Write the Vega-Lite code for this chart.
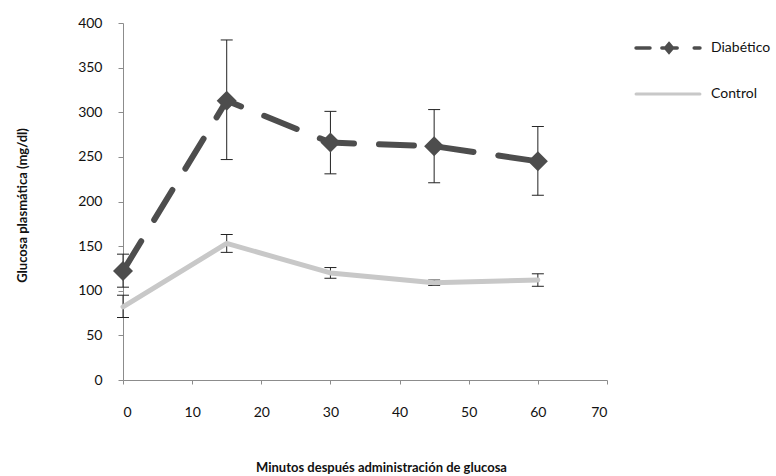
{
  "$schema": "https://vega.github.io/schema/vega-lite/v6.json",
  "width": 484,
  "height": 357,
  "autosize": {"type": "none"},
  "padding": {"left": 123, "top": 23, "right": 169, "bottom": 96},
  "background": "white",
  "config": {
    "view": {"stroke": null},
    "font": "Lato",
    "axis": {
      "grid": false,
      "domainColor": "#8c8c8c",
      "tickColor": "#8c8c8c",
      "labelColor": "#111111",
      "labelFont": "Lato",
      "labelFontSize": 14,
      "titleFont": "Lato",
      "titleFontSize": 13,
      "titleFontWeight": "bold",
      "titleColor": "#111111"
    }
  },
  "data": {
    "values": [
      {"t": 0, "g": "Diabético", "v": 122, "lo": 104, "hi": 141},
      {"t": 15, "g": "Diabético", "v": 313, "lo": 247, "hi": 381},
      {"t": 30, "g": "Diabético", "v": 266, "lo": 231, "hi": 301},
      {"t": 45, "g": "Diabético", "v": 262, "lo": 221, "hi": 303},
      {"t": 60, "g": "Diabético", "v": 245, "lo": 207, "hi": 284},
      {"t": 0, "g": "Control", "v": 82, "lo": 70, "hi": 95},
      {"t": 15, "g": "Control", "v": 153, "lo": 143, "hi": 163},
      {"t": 30, "g": "Control", "v": 120, "lo": 114, "hi": 126},
      {"t": 45, "g": "Control", "v": 109, "lo": 106, "hi": 112},
      {"t": 60, "g": "Control", "v": 112, "lo": 105, "hi": 119}
    ]
  },
  "encoding": {
    "x": {
      "field": "t",
      "type": "quantitative",
      "scale": {"domain": [0, 70], "nice": false},
      "axis": {
        "values": [0, 10, 20, 30, 40, 50, 60, 70],
        "title": "Minutos después administración de glucosa",
        "tickSize": 4,
        "labelPadding": 28,
        "labelBaseline": "middle",
        "titleX": 258,
        "titleY": 87,
        "titleBaseline": "middle",
        "titleAlign": "center"
      }
    }
  },
  "layer": [
    {
      "mark": {"type": "rule", "color": "#222222", "strokeWidth": 1},
      "encoding": {
        "y": {
          "field": "lo",
          "type": "quantitative",
          "scale": {"domain": [0, 400], "nice": false},
          "axis": {
            "values": [0, 50, 100, 150, 200, 250, 300, 350, 400],
            "title": "Glucosa plasmática (mg/dl)",
            "tickSize": 5,
            "labelPadding": 16,
            "titleX": -101,
            "titleY": 182,
            "titleAngle": 270,
            "titleAlign": "center",
            "titleBaseline": "middle"
          }
        },
        "y2": {"field": "hi"}
      }
    },
    {
      "mark": {"type": "tick", "orient": "horizontal", "color": "#222222", "size": 12, "thickness": 1, "opacity": 1},
      "encoding": {"y": {"field": "lo", "type": "quantitative"}}
    },
    {
      "mark": {"type": "tick", "orient": "horizontal", "color": "#222222", "size": 12, "thickness": 1, "opacity": 1},
      "encoding": {"y": {"field": "hi", "type": "quantitative"}}
    },
    {
      "transform": [{"filter": "datum.g === 'Control'"}],
      "mark": {"type": "line", "strokeWidth": 5, "strokeJoin": "round", "strokeCap": "round"},
      "encoding": {
        "y": {"field": "v", "type": "quantitative"},
        "color": {
          "field": "g",
          "type": "nominal",
          "scale": {"domain": ["Diabético", "Control"], "range": ["#4d4d4d", "#c8c8c8"]},
          "legend": {
            "title": null,
            "orient": "none",
            "legendX": 538,
            "legendY": 18,
            "padding": 0,
            "symbolType": "stroke",
            "symbolSize": 4624,
            "symbolStrokeWidth": 3.5,
            "labelFont": "Lato",
            "labelFontSize": 14,
            "labelColor": "#111111",
            "labelOffset": 36,
            "rowPadding": 27,
            "encode": {
              "symbols": {
                "update": {
                  "shape": {"signal": "datum.value === 'Diabético' ? 'M-0.94,0L-0.53,0M-0.18,0L0.27,0M0.77,0L0.94,0M0.03,-0.12L0.13,0L0.03,0.12L-0.07,0Z' : 'M-0.94,0L0.94,0'"},
                  "fill": {"signal": "datum.value === 'Diabético' ? '#4d4d4d' : 'transparent'"},
                  "strokeCap": {"value": "round"},
                  "strokeWidth": {"signal": "datum.value === 'Diabético' ? 3.5 : 3"}
                }
              }
            }
          }
        }
      }
    },
    {
      "transform": [{"filter": "datum.g === 'Diabético'"}],
      "mark": {"type": "line", "strokeWidth": 6, "strokeDash": [35, 25], "strokeCap": "round", "strokeJoin": "round"},
      "encoding": {
        "y": {"field": "v", "type": "quantitative"},
        "color": {"field": "g", "type": "nominal"}
      }
    },
    {
      "transform": [{"filter": "datum.g === 'Diabético'"}],
      "mark": {"type": "point", "shape": "diamond", "filled": true, "size": 400, "color": "#4d4d4d", "opacity": 1},
      "encoding": {
        "y": {"field": "v", "type": "quantitative"}
      }
    }
  ]
}
